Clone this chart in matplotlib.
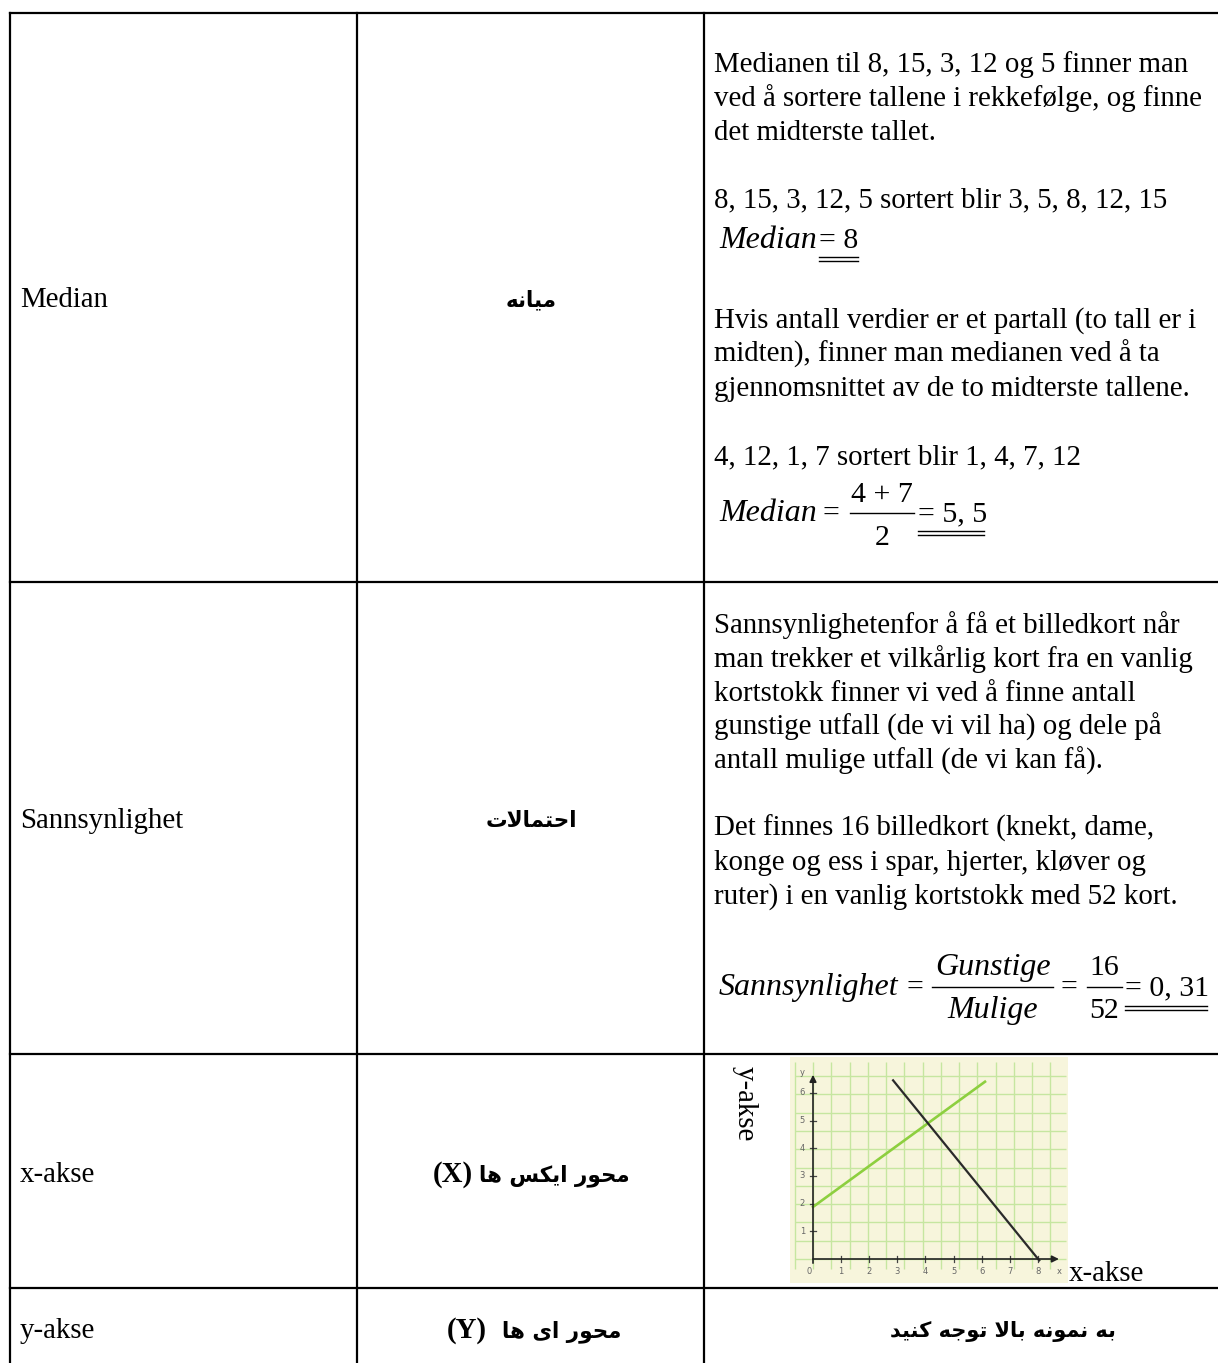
import numpy as np
import matplotlib.pyplot as plt

# ---- contents --------------------------------------------------------------
col1_labels = ["Median", "Sannsynlighet", "x-akse", "y-akse"]
col2_labels = ["میانه", "احتمالات", "محور ایکس ها", "محور اى ها"]
col2_suffix = ["", "", "(X)", "(Y)"]
note_text = "به نمونه بالا توجه کنید"

median_lines_1 = ["Medianen til 8, 15, 3, 12 og 5 finner man",
                  "ved å sortere tallene i rekkefølge, og finne",
                  "det midterste tallet."]
median_lines_2 = ["8, 15, 3, 12, 5 sortert blir 3, 5, 8, 12, 15"]
median_lines_3 = ["Hvis antall verdier er et partall (to tall er i",
                  "midten), finner man medianen ved å ta",
                  "gjennomsnittet av de to midterste tallene."]
median_lines_4 = ["4, 12, 1, 7 sortert blir 1, 4, 7, 12"]
prob_lines_1 = ["Sannsynlighetenfor å få et billedkort når",
                "man trekker et vilkårlig kort fra en vanlig",
                "kortstokk finner vi ved å finne antall",
                "gunstige utfall (de vi vil ha) og dele på",
                "antall mulige utfall (de vi kan få)."]
prob_lines_2 = ["Det finnes 16 billedkort (knekt, dame,",
                "konge og ess i spar, hjerter, kløver og",
                "ruter) i en vanlig kortstokk med 52 kort."]

# small example graph
green_x = [0.0, 6.12]
green_y = [1.88, 6.40]
black_x = [2.85, 8.05]
black_y = [6.45, -0.05]
graph_xticks = [0, 1, 2, 3, 4, 5, 6, 7, 8]
graph_yticks = [1, 2, 3, 4, 5, 6]

# ---- crude arabic shaping (presentation forms, visual order) ---------------
FORMS = {
    'ا': ('\uFE8D', '\uFE8E', None, None),
    'ب': ('\uFE8F', '\uFE90', '\uFE91', '\uFE92'),
    'ت': ('\uFE95', '\uFE96', '\uFE97', '\uFE98'),
    'ج': ('\uFE9D', '\uFE9E', '\uFE9F', '\uFEA0'),
    'ح': ('\uFEA1', '\uFEA2', '\uFEA3', '\uFEA4'),
    'د': ('\uFEA9', '\uFEAA', None, None),
    'ر': ('\uFEAD', '\uFEAE', None, None),
    'س': ('\uFEB1', '\uFEB2', '\uFEB3', '\uFEB4'),
    'ک': ('\uFED9', '\uFEDA', '\uFEDB', '\uFEDC'),
    'ل': ('\uFEDD', '\uFEDE', '\uFEDF', '\uFEE0'),
    'م': ('\uFEE1', '\uFEE2', '\uFEE3', '\uFEE4'),
    'ن': ('\uFEE5', '\uFEE6', '\uFEE7', '\uFEE8'),
    'ه': ('\uFEE9', '\uFEEA', '\uFEEB', '\uFEEC'),
    'و': ('\uFEED', '\uFEEE', None, None),
    'ی': ('\uFEEF', '\uFEF0', '\uFEF3', '\uFEF4'),
    'ى': ('\uFEEF', '\uFEF0', None, None),
}


def shape(word):
    out = []
    i = 0
    while i < len(word):
        c = word[i]
        if c not in FORMS:
            out.append(c)
            i += 1
            continue
        prev = word[i - 1] if i > 0 else ''
        joins_prev = prev in FORMS and FORMS[prev][2] is not None
        if c == 'ل' and i + 1 < len(word) and word[i + 1] == 'ا':
            out.append('\uFEFC' if joins_prev else '\uFEFB')
            i += 2
            continue
        nxt = word[i + 1] if i + 1 < len(word) else ''
        joins_next = FORMS[c][2] is not None and nxt in FORMS
        iso, fin, ini, med = FORMS[c]
        if joins_prev and joins_next:
            out.append(med)
        elif joins_prev:
            out.append(fin)
        elif joins_next:
            out.append(ini)
        else:
            out.append(iso)
        i += 1
    return ''.join(out)[::-1]


# ---- figure ----------------------------------------------------------------
W, H = 1218, 1363
fig = plt.figure(figsize=(W / 100, H / 100), dpi=100)
ax = fig.add_axes([0, 0, 1, 1])
ax.set_xlim(0, W)
ax.set_ylim(H, 0)
ax.axis('off')

lw = 1.6
# table grid
ax.plot([10, W], [13, 13], color='black', lw=lw)
for yy in [582, 1054, 1288]:
    ax.plot([10, W], [yy, yy], color='black', lw=lw)
for xx in [10, 357, 704]:
    ax.plot([xx, xx], [13, H], color='black', lw=lw)

serif = 'Liberation Serif'
fs = 20.8
arfs = 15.5
row_y = [298, 819, 1173, 1329]
off = 9  # centre -> baseline
suffix_x = [0, 0, 453, 467]
arab_x = [531, 531, 554, 562]

for lab, y in zip(col1_labels, row_y):
    ax.text(20, y + off, lab, family=serif, fontsize=fs, va='baseline')

for lab, suf, y, sx, axx in zip(col2_labels, col2_suffix, row_y, suffix_x, arab_x):
    ax.text(axx, y + off - 1, shape(lab), family='DejaVu Sans', weight='bold',
            fontsize=arfs, va='baseline', ha='center')
    if suf:
        ax.text(sx, y + off, suf, family=serif, weight='bold', fontsize=fs,
                va='baseline', ha='center')

ax.text(1003, 1329 + off - 1, shape(note_text), family='DejaVu Sans', weight='bold',
        fontsize=arfs - 0.5, va='baseline', ha='center')


def block(lines, y0, dy=33.9):
    for k, s in enumerate(lines):
        ax.text(714, y0 + k * dy + off, s, family=serif, fontsize=fs, va='baseline')


block(median_lines_1, 63)
block(median_lines_2, 198)
block(median_lines_3, 319)
block(median_lines_4, 455)
block(prob_lines_1, 624)
block(prob_lines_2, 827)


def dbl_underline(x0, x1, y):
    ax.plot([x0, x1], [y, y], color='black', lw=1.0)
    ax.plot([x0, x1], [y + 4, y + 4], color='black', lw=1.0)


ffs = 21.5   # numbers in formulas
ifs = 23.0   # italic words in formulas

# Median = 8
ax.text(719, 248, 'Median', family=serif, style='italic', fontsize=ifs, va='baseline')
ax.text(819, 248, '= 8', family=serif, fontsize=ffs, va='baseline')
dbl_underline(819, 858, 257)

# Median = (4+7)/2 = 5,5
ax.text(719, 521, 'Median', family=serif, style='italic', fontsize=ifs, va='baseline')
ax.text(823, 521, '=', family=serif, fontsize=ffs, va='baseline')
ax.plot([850, 914], [513, 513], color='black', lw=1.0)
ax.text(882, 502, '4 + 7', family=serif, fontsize=ffs, va='baseline', ha='center')
ax.text(882, 545, '2', family=serif, fontsize=ffs, va='baseline', ha='center')
ax.text(918, 521, '= 5, 5', family=serif, fontsize=ffs, va='baseline')
dbl_underline(918, 984, 531)

# Sannsynlighet = Gunstige/Mulige = 16/52 = 0,31
ax.text(719, 995, 'Sannsynlighet', family=serif, style='italic', fontsize=ifs, va='baseline')
ax.text(907, 995, '=', family=serif, fontsize=ffs, va='baseline')
ax.plot([932, 1053], [987, 987], color='black', lw=1.0)
ax.text(993, 975, 'Gunstige', family=serif, style='italic', fontsize=ifs, va='baseline', ha='center')
ax.text(993, 1018, 'Mulige', family=serif, style='italic', fontsize=ifs, va='baseline', ha='center')
ax.text(1060, 995, '=', family=serif, fontsize=ffs, va='baseline')
ax.plot([1087, 1122], [987, 987], color='black', lw=1.0)
ax.text(1104, 975, '16', family=serif, fontsize=ffs, va='baseline', ha='center')
ax.text(1104, 1018, '52', family=serif, fontsize=ffs, va='baseline', ha='center')
ax.text(1125, 995, '= 0, 31', family=serif, fontsize=ffs, va='baseline')
dbl_underline(1125, 1207, 1006)

# axis words beside the small graph
ax.text(745, 1066, 'y-akse', family=serif, fontsize=fs, rotation=-90, va='top', ha='center')
ax.text(1069, 1281, 'x-akse', family=serif, fontsize=fs, va='baseline')

# ---- small graph -----------------------------------------------------------
gl, gr, gt, gb = 790, 1068, 1057, 1283
ox, oy, ux, uy = 813, 1259, 28.1, 27.7
g = fig.add_axes([gl / W, 1 - gb / H, (gr - gl) / W, (gb - gt) / H])
g.set_facecolor('#f7f5dc')
g.set_xlim((gl - ox) / ux, (gr - ox) / ux)
g.set_ylim((oy - gb) / uy, (oy - gt) / uy)
for s in g.spines.values():
    s.set_visible(False)
g.set_xticks([])
g.set_yticks([])
grid_c = '#c6e6a0'
g.vlines(np.arange(-0.65, 9.1, 0.65), -0.35, 7.1, color=grid_c, lw=1.0)
g.hlines(np.arange(0.0, 7.1, 0.66), -0.65, 9.0, color=grid_c, lw=1.0)
g.annotate('', xy=(8.85, 0), xytext=(-0.1, 0),
           arrowprops=dict(arrowstyle='-|>', color='#222222', lw=1.2, mutation_scale=10))
g.annotate('', xy=(0, 6.75), xytext=(0, -0.25),
           arrowprops=dict(arrowstyle='-|>', color='#222222', lw=1.2, mutation_scale=10))
for t in graph_xticks:
    if t > 0:
        g.plot([t, t], [-0.1, 0.1], color='#444444', lw=0.9)
    g.text(t - 0.15 if t == 0 else t, -0.45, str(t), fontsize=6, color='#666666', ha='center', va='center')
for t in graph_yticks:
    g.plot([-0.1, 0.1], [t, t], color='#444444', lw=0.9)
    g.text(-0.38, t, str(t), fontsize=6, color='#666666', ha='center', va='center')
g.text(-0.38, 6.75, 'y', fontsize=6, color='#666666', ha='center', va='center')
g.text(8.75, -0.45, 'x', fontsize=6, color='#666666', ha='center', va='center')
g.plot(green_x, green_y, color='#8dcf3f', lw=1.9)
g.plot(black_x, black_y, color='#2a2a2a', lw=1.6)

fig.savefig('out.png', dpi=100)
